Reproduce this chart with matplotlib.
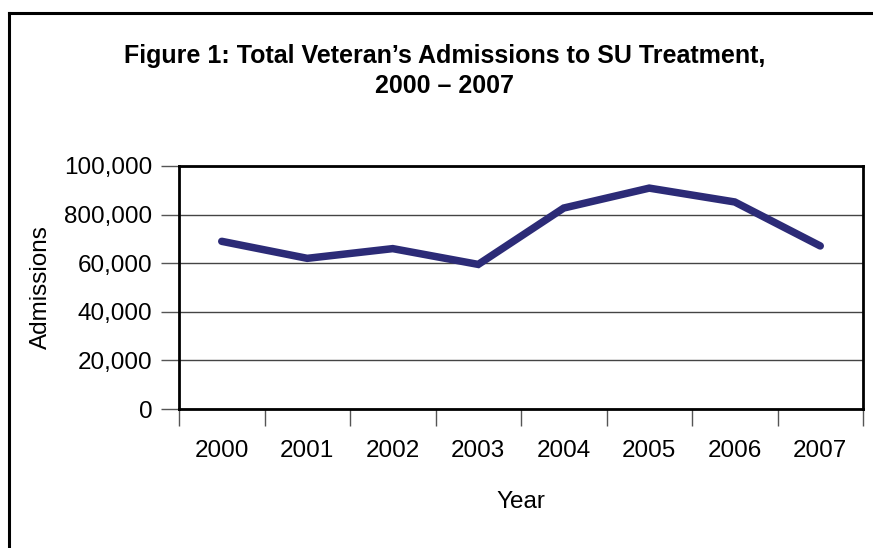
import matplotlib
matplotlib.use("Agg")
import matplotlib.pyplot as plt
from matplotlib.lines import Line2D

plt.rcParams['font.family'] = ['Liberation Sans', 'DejaVu Sans']

years = ["2000", "2001", "2002", "2003", "2004", "2005", "2006", "2007"]
admissions = [69000, 62000, 66000, 59500, 82700, 90900, 85200, 67100]
y_ticks = [0, 20000, 40000, 60000, 80000, 100000]
y_tick_labels = ["0", "20,000", "40,000", "60,000", "800,000", "100,000"]
title = "Figure 1: Total Veteran\u2019s Admissions to SU Treatment,\n2000 \u2013 2007"

W, H = 873, 548
fig = plt.figure(figsize=(W / 100, H / 100), dpi=100)
fig.patch.set_facecolor("white")

# figure border (top and left only)
fig.add_artist(Line2D([8.5 / W, 1.0], [1 - 12.5 / H, 1 - 12.5 / H], transform=fig.transFigure,
                      color="black", lw=2.2))
fig.add_artist(Line2D([8.5 / W, 8.5 / W], [0, 1 - 12.5 / H], transform=fig.transFigure,
                      color="black", lw=2.2))

ax = fig.add_axes([179 / W, 1 - 409 / H, (863 - 179) / W, (409 - 166) / H])
x = list(range(len(years)))
ax.plot(x, admissions, color="#2C2B77", lw=5.4, solid_capstyle="round", solid_joinstyle="miter", zorder=3)

ax.set_xlim(-0.5, len(years) - 0.5)
ax.set_ylim(0, 100000)

# major ticks at category boundaries (no labels), minor ticks at centers (labels)
ax.set_xticks([i - 0.5 for i in range(len(years) + 1)])
ax.set_xticklabels([])
ax.set_xticks(x, minor=True)
ax.set_xticklabels(years, minor=True, fontsize=17.5)
ax.tick_params(axis="x", which="major", length=12, width=1, color="#555555", direction="out")
ax.tick_params(axis="x", which="minor", length=0, pad=22)

ax.set_yticks(y_ticks)
ax.set_yticklabels(y_tick_labels, fontsize=17.5)
ax.tick_params(axis="y", length=13, width=1, color="#555555", pad=6)

ax.yaxis.grid(True, color="#444444", lw=1)
ax.set_axisbelow(True)
for s in ax.spines.values():
    s.set_linewidth(2)
    s.set_color("black")

ax.set_xlabel("Year", fontsize=17.5, labelpad=21)
ax.set_ylabel("Admissions", fontsize=17.5, labelpad=9)

fig.text(445 / W, 1 - 71 / H, title, ha="center", va="center", fontsize=18,
         fontweight="bold", linespacing=1.3)

fig.savefig("out.png", dpi=100, facecolor="white")
